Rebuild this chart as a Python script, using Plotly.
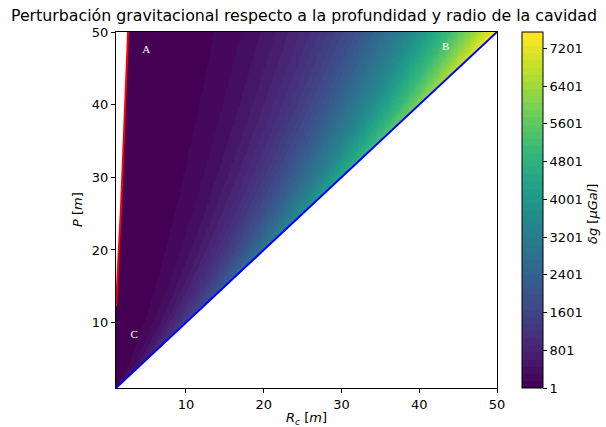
import numpy as np
import plotly.graph_objects as go
from plotly.colors import sample_colorscale

# Domain of the map: cavity radius Rc and depth P (metres)
rc_limits = [1, 50]
p_limits = [1, 50]
grid_points = 320

# Point-mass anomaly: dg = K * Rc^3 / P^2  (K in microGal per metre)
K_UGAL = 151.0
DG_MIN = 1.0          # lowest contour level, microGal
N_LEVELS = 50

cbar_ticks = [1, 801, 1601, 2401, 3201, 4001, 4801, 5601, 6401, 7201]
x_ticks = [10, 20, 30, 40, 50]
y_ticks = [10, 20, 30, 40, 50]

zone_labels = ["A", "B", "C"]
zone_rc = [4.9, 43.4, 3.35]
zone_p = [47.5, 47.9, 8.2]

rc = np.linspace(rc_limits[0], rc_limits[1], grid_points)
p = np.linspace(p_limits[0], p_limits[1], grid_points)
RC, PP = np.meshgrid(rc, p)
dg = K_UGAL * RC**3 / PP**2
dg[(RC > PP) | (dg < DG_MIN)] = np.nan

zmax = K_UGAL * rc_limits[1]**3 / p_limits[1]**2
levels = np.linspace(DG_MIN, zmax, N_LEVELS + 1)
band = np.clip(np.digitize(dg, levels) - 1, 0, N_LEVELS - 1)
zq = levels[:-1][band] + 0.5 * (levels[1] - levels[0])
zq[np.isnan(dg)] = np.nan

# stepped viridis, one colour per filled band
cols = sample_colorscale("Viridis", [i / (N_LEVELS - 1) for i in range(N_LEVELS)])
cscale = []
for i, c in enumerate(cols):
    cscale.append([i / N_LEVELS, c])
    cscale.append([(i + 1) / N_LEVELS, c])

PLOT_L, PLOT_R, PLOT_T, PLOT_B = 116, 497, 32, 388
PW, PH = PLOT_R - PLOT_L, PLOT_B - PLOT_T
TICK_FONT = dict(family="DejaVu Sans", size=13, color="black")

fig = go.Figure()
fig.add_trace(go.Heatmap(
    x=rc, y=p, z=zq, zmin=DG_MIN, zmax=zmax,
    colorscale=cscale, hoverongaps=False,
    colorbar=dict(
        x=(522 - PLOT_L) / PW, xanchor="left", xref="paper", xpad=0, ypad=0,
        y=0.5, yanchor="middle", len=1.0, lenmode="fraction",
        thickness=21, outlinewidth=1, outlinecolor="black",
        tickvals=cbar_ticks, ticks="outside", ticklen=4,
        tickcolor="black", tickfont=TICK_FONT,
    ),
))

# Blue line: Rc = P (cavity touching the surface)
fig.add_trace(go.Scatter(x=rc_limits, y=p_limits, mode="lines",
                         line=dict(color="blue", width=2), hoverinfo="skip",
                         showlegend=False))

# Red line: detection threshold dg = DG_MIN
p_red = np.linspace(np.sqrt(K_UGAL / DG_MIN), p_limits[1], 60)
rc_red = (DG_MIN * p_red**2 / K_UGAL) ** (1 / 3)
fig.add_trace(go.Scatter(x=rc_red, y=p_red, mode="lines",
                         line=dict(color="red", width=2), hoverinfo="skip",
                         showlegend=False))

fig.add_trace(go.Scatter(x=zone_rc, y=zone_p, mode="text", text=zone_labels,
                         textfont=dict(family="Liberation Serif", size=11, color="white"),
                         hoverinfo="skip", showlegend=False))

axis_common = dict(showline=True, linecolor="black", linewidth=1, mirror=True,
                   ticks="outside", ticklen=4, tickcolor="black", showgrid=False,
                   zeroline=False, tickfont=TICK_FONT)
fig.update_xaxes(range=rc_limits, tickvals=x_ticks, **axis_common)
fig.update_yaxes(range=p_limits, tickvals=y_ticks, **axis_common)

fig.update_layout(
    width=606, height=427,
    margin=dict(l=PLOT_L, r=606 - PLOT_R, t=PLOT_T, b=427 - PLOT_B, autoexpand=False),
    plot_bgcolor="white", paper_bgcolor="white",
    title=dict(text="Perturbación gravitacional respecto a la profundidad y radio de la cavidad",
               x=(304 - PLOT_L) / PW, xanchor="center", xref="paper", y=1 - 15 / 427, yanchor="middle",
               font=dict(family="DejaVu Sans", size=15.8, color="black")),
    annotations=[
        dict(text="<i>R<sub>c</sub></i> [<i>m</i>]", x=0.5, y=-(418 - PLOT_B) / PH, xref="paper", yref="paper",
             xanchor="center", yanchor="middle", showarrow=False,
             font=dict(family="DejaVu Sans", size=13, color="black")),
        dict(text="<i>P</i> [<i>m</i>]", x=-(PLOT_L - 77) / PW, y=0.5, xref="paper", yref="paper",
             xanchor="center", yanchor="middle", showarrow=False, textangle=-90,
             font=dict(family="DejaVu Sans", size=13, color="black")),
        dict(text="<i>δg</i> [<i>μGal</i>]", x=(592 - PLOT_L) / PW, y=(PLOT_B - 214) / PH,
             xref="paper", yref="paper",
             xanchor="center", yanchor="middle", showarrow=False, textangle=-90,
             font=dict(family="DejaVu Sans", size=13, color="black")),
    ],
)

fig.write_html("out.html")
